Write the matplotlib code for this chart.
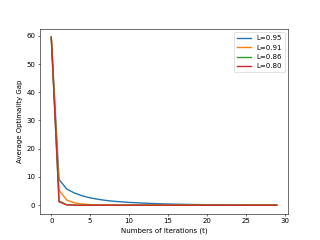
import matplotlib
matplotlib.use("Agg")
import matplotlib.pyplot as plt

t = list(range(30))
gap_095 = [59.5, 9.1, 5.7, 4.3, 3.3, 2.6, 2.1, 1.7, 1.4, 1.2, 1.0, 0.85, 0.72, 0.6, 0.5, 0.42,
           0.35, 0.3, 0.25, 0.21, 0.18, 0.15, 0.13, 0.11, 0.09, 0.08, 0.07, 0.06, 0.05, 0.04]
gap_091 = [59.5, 5.3, 1.8, 0.8, 0.4, 0.2, 0.1, 0.06, 0.03, 0.02, 0.01, 0.0, 0.0, 0.0, 0.0, 0.0,
           0.0, 0.0, 0.0, 0.0, 0.0, 0.0, 0.0, 0.0, 0.0, 0.0, 0.0, 0.0, 0.0, 0.0]
gap_086 = [59.5, 1.5, 0.15, 0.02, 0.0, 0.0, 0.0, 0.0, 0.0, 0.0, 0.0, 0.0, 0.0, 0.0, 0.0, 0.0,
           0.0, 0.0, 0.0, 0.0, 0.0, 0.0, 0.0, 0.0, 0.0, 0.0, 0.0, 0.0, 0.0, 0.0]
gap_080 = [59.5, 1.2, 0.1, 0.01, 0.0, 0.0, 0.0, 0.0, 0.0, 0.0, 0.0, 0.0, 0.0, 0.0, 0.0, 0.0,
           0.0, 0.0, 0.0, 0.0, 0.0, 0.0, 0.0, 0.0, 0.0, 0.0, 0.0, 0.0, 0.0, 0.0]
labels = ["L=0.95", "L=0.91", "L=0.86", "L=0.80"]

fig, ax = plt.subplots(figsize=(6.4, 4.8), dpi=50)
for y, lab in zip([gap_095, gap_091, gap_086, gap_080], labels):
    ax.plot(t, y, label=lab, linewidth=2)
ax.set_xlabel("Numbers of Iterations (t)")
ax.set_ylabel("Average Optimality Gap")
ax.legend(loc="upper right")
fig.savefig("out.png", dpi=50)
